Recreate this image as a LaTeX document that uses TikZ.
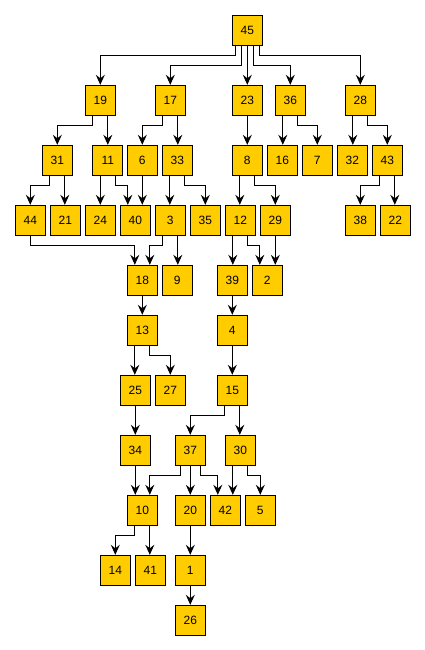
\documentclass[tikz,border=0pt]{standalone}
\usepackage{fontspec}
\setmainfont{Liberation Sans}
\usetikzlibrary{arrows.meta}
\definecolor{boxfill}{HTML}{FFCC00}
\tikzset{
  box/.style={draw=black, line width=1pt, fill=boxfill, minimum width=30pt,
    minimum height=30pt, inner sep=0pt, font=\fontsize{12pt}{14pt}\selectfont},
  arr/.style={line width=1pt, -{Stealth[length=10pt,width=9pt,inset=3.5pt]}},
}
% straight vertical connector: source, x offset at the source, target
\newcommand{\sline}[3]{\draw[arr] ([xshift=#2pt]#1.south) -- ([xshift=#2pt]#1.south |- #3.north);}
% elbow connector: source, x offset, drop, target, x offset at the target
\newcommand{\eline}[5]{\draw[arr] ([xshift=#2pt]#1.south) -- ++(0,#3) -| ([xshift=#5pt]#4.north);}
\begin{document}
\begin{tikzpicture}[x=1pt, y=-1pt]
\useasboundingbox (0,0) rectangle (425,650);
% row 1
\node[box] (n45) at (247.3,30.3) {45};
% row 2
\node[box] (n19) at (100.3,100.3) {19};
\node[box] (n17) at (170.3,100.3) {17};
\node[box] (n23) at (247.3,100.3) {23};
\node[box] (n36) at (290.3,100.3) {36};
\node[box] (n28) at (360.3,100.3) {28};
% row 3
\node[box] (n31) at (57.3,160.3) {31};
\node[box] (n11) at (107.8,160.3) {11};
\node[box] (n6) at (142.3,160.3) {6};
\node[box] (n33) at (177.3,160.3) {33};
\node[box] (n8) at (247.3,160.3) {8};
\node[box] (n16) at (282.3,160.3) {16};
\node[box] (n7) at (317.3,160.3) {7};
\node[box] (n32) at (352.3,160.3) {32};
\node[box] (n43) at (387.3,160.3) {43};
% row 4
\node[box] (n44) at (30.3,220.3) {44};
\node[box] (n21) at (65.3,220.3) {21};
\node[box] (n24) at (100.3,220.3) {24};
\node[box] (n40) at (135.3,220.3) {40};
\node[box] (n3) at (170.3,220.3) {3};
\node[box] (n35) at (205.3,220.3) {35};
\node[box] (n12) at (240.3,220.3) {12};
\node[box] (n29) at (275.3,220.3) {29};
\node[box] (n38) at (360.3,220.3) {38};
\node[box] (n22) at (395.3,220.3) {22};
% row 5
\node[box] (n18) at (142.3,280.3) {18};
\node[box] (n9) at (177.3,280.3) {9};
\node[box] (n39) at (232.3,280.3) {39};
\node[box] (n2) at (267.3,280.3) {2};
% row 6
\node[box] (n13) at (142.3,330.3) {13};
\node[box] (n4) at (232.3,330.3) {4};
% row 7
\node[box] (n25) at (135.3,390.3) {25};
\node[box] (n27) at (170.3,390.3) {27};
\node[box] (n15) at (232.3,390.3) {15};
% row 8
\node[box] (n34) at (135.3,450.3) {34};
\node[box] (n37) at (190.3,450.3) {37};
\node[box] (n30) at (240.3,450.3) {30};
% row 9
\node[box] (n10) at (142.3,510.3) {10};
\node[box] (n20) at (190.3,510.3) {20};
\node[box] (n42) at (225.3,510.3) {42};
\node[box] (n5) at (260.3,510.3) {5};
% row 10
\node[box] (n14) at (115.3,570.3) {14};
\node[box] (n41) at (150.3,570.3) {41};
\node[box] (n1) at (190.3,570.3) {1};
% row 11
\node[box] (n26) at (190.3,620.3) {26};

% elbow connectors
\eline{n45}{-12}{10}{n19}{0}
\eline{n45}{-6}{20}{n17}{0}
\eline{n45}{6}{20}{n36}{0}
\eline{n45}{12}{10}{n28}{0}
\eline{n19}{-7.5}{10}{n31}{0}
\eline{n17}{-7.5}{10}{n6}{0}
\eline{n36}{7.5}{10}{n7}{0}
\eline{n28}{7.5}{10}{n43}{0}
\eline{n31}{-7.5}{10}{n44}{0}
\eline{n11}{7.5}{10}{n40}{-7.5}
\eline{n33}{7.5}{10}{n35}{0}
\eline{n8}{7.5}{10}{n29}{0}
\eline{n43}{-7.5}{10}{n38}{0}
\eline{n44}{0}{10}{n18}{-7.5}
\eline{n3}{-7.5}{10}{n18}{7.5}
\eline{n12}{7.5}{10}{n2}{-7.5}
\eline{n13}{7.5}{10}{n27}{0}
\eline{n15}{-7.5}{10}{n37}{0}
\eline{n37}{-10}{10}{n10}{7.5}
\eline{n37}{10}{10}{n42}{-7.5}
\eline{n30}{7.5}{10}{n5}{0}
\eline{n10}{-7.5}{10}{n14}{0}

% straight connectors
\sline{n45}{0}{n23}
\sline{n19}{7.5}{n11}
\sline{n17}{7.5}{n33}
\sline{n23}{0}{n8}
\sline{n36}{-7.5}{n16}
\sline{n28}{-7.5}{n32}
\sline{n31}{7.5}{n21}
\sline{n11}{-7.5}{n24}
\sline{n6}{0}{n40}
\sline{n33}{-7.5}{n3}
\sline{n8}{-7.5}{n12}
\sline{n43}{7.5}{n22}
\sline{n3}{7.5}{n9}
\sline{n12}{-7.5}{n39}
\sline{n29}{0}{n2}
\sline{n18}{0}{n13}
\sline{n39}{0}{n4}
\sline{n13}{-7.5}{n25}
\sline{n4}{0}{n15}
\sline{n15}{7.5}{n30}
\sline{n25}{0}{n34}
\sline{n34}{0}{n10}
\sline{n37}{0}{n20}
\sline{n30}{-7.5}{n42}
\sline{n10}{7.5}{n41}
\sline{n20}{0}{n1}
\sline{n1}{0}{n26}
\end{tikzpicture}
\end{document}
